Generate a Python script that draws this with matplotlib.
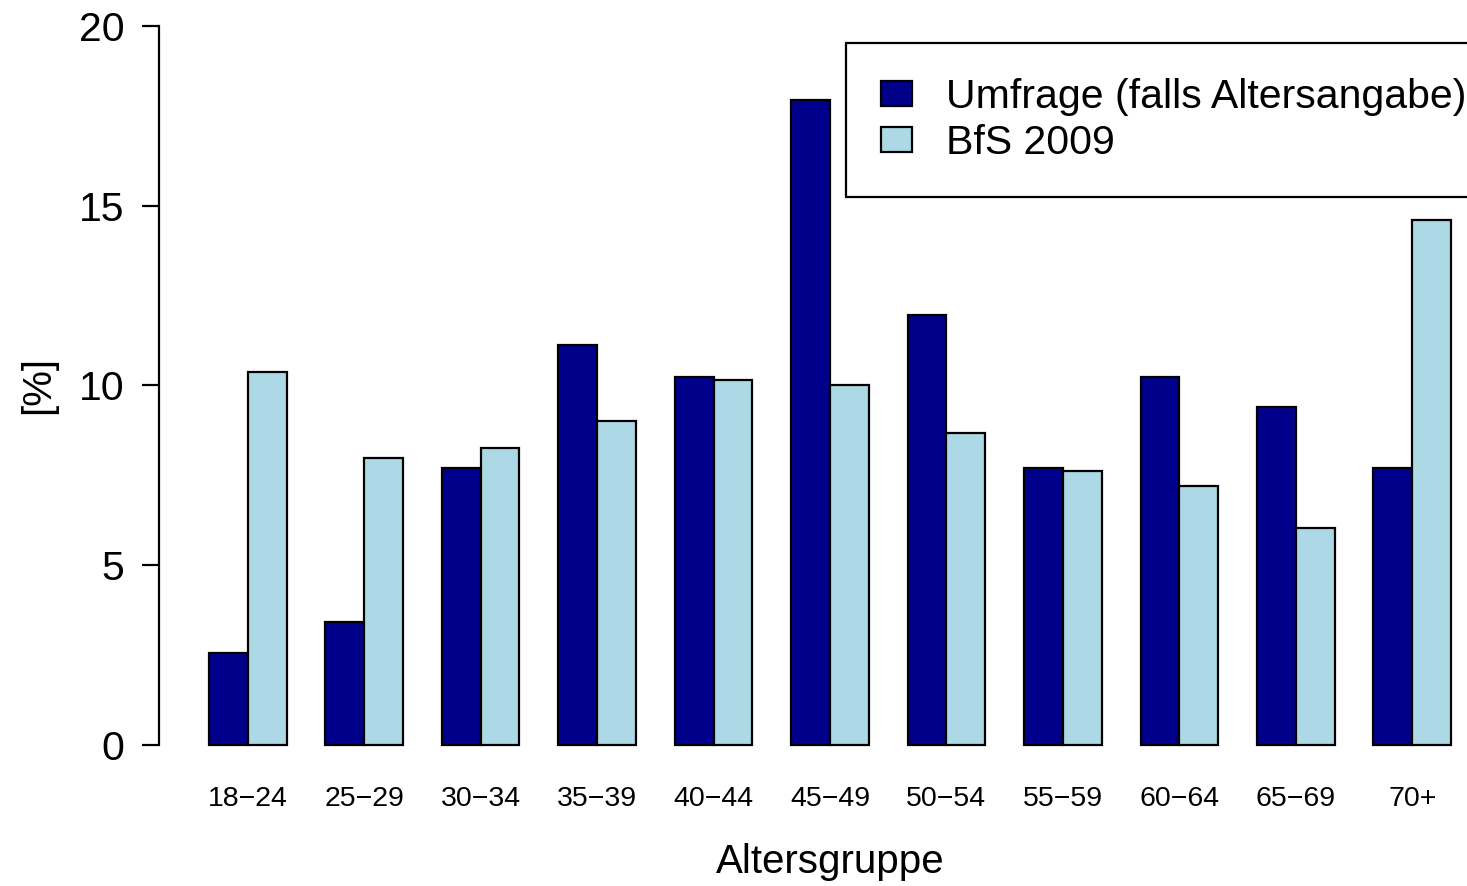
import matplotlib

matplotlib.use("Agg")
import matplotlib.pyplot as plt
import numpy as np

plt.rcParams["font.family"] = ["Liberation Sans", "DejaVu Sans"]

groups = ["18\u221224", "25\u221229", "30\u221234", "35\u221239", "40\u221244", "45\u221249",
          "50\u221254", "55\u221259", "60\u221264", "65\u221269", "70+"]
umfrage = [2.56, 3.42, 7.70, 11.13, 10.24, 17.94, 11.96, 7.70, 10.24, 9.40, 7.70]
bfs2009 = [10.38, 7.98, 8.26, 9.01, 10.15, 10.01, 8.68, 7.62, 7.20, 6.04, 14.60]

fig = plt.figure(figsize=(14.67, 8.86), dpi=100)
ax = fig.add_axes([159.3 / 1467, 1 - 774 / 886, (1500.7 - 159.3) / 1467, (774 + 3) / 886])

# R barplot(beside=TRUE) layout: bar width 1, one empty bar between groups
x = np.arange(len(groups)) * 3
ax.bar(x + 1.5, umfrage, width=1, color="#00008B", edgecolor="black", linewidth=1.6,
       label="Umfrage (falls Altersangabe)")
ax.bar(x + 2.5, bfs2009, width=1, color="#ADD8E6", edgecolor="black", linewidth=1.6,
       label="BfS 2009")

ax.set_xlim(-0.28, 34.28)
ax.set_ylim(-0.8, 20.8)
for s in ["top", "right", "bottom"]:
    ax.spines[s].set_visible(False)
ax.spines["left"].set_bounds(0, 20)
ax.spines["left"].set_linewidth(1.6)
ax.set_yticks([0, 5, 10, 15, 20])
ax.tick_params(axis="y", length=12, width=1.6, pad=13, labelsize=29.5)
ax.set_xticks(x + 2)
ax.set_xticklabels(groups)
ax.tick_params(axis="x", length=0, pad=9, labelsize=20.5)

ax.set_xlabel("Altersgruppe", fontsize=29, labelpad=22)
ax.set_ylabel("[%]", fontsize=29, labelpad=16)

leg = ax.legend(loc="upper left", bbox_to_anchor=(846 / 1467, 1 - 43 / 886),
                bbox_transform=fig.transFigure, fontsize=29.5, frameon=True,
                fancybox=False, edgecolor="black", framealpha=1,
                handlelength=0.75, handleheight=0.55, handletextpad=0.85,
                labelspacing=0.2, borderpad=0.85, borderaxespad=0)
leg.get_frame().set_linewidth(1.6)

fig.savefig("out.png", dpi=100)
